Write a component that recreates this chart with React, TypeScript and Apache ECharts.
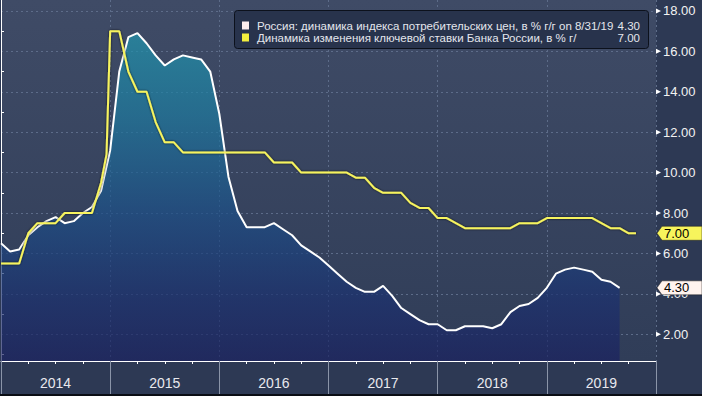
import React, { useEffect, useRef } from "react";
import * as echarts from "echarts";

// Month index 0 = end of Dec 2013 (start of 2014), 12 = start of 2015, ...
const cpiValues = [
  6.5, 6.1, 6.2, 6.9, 7.3, 7.6, 7.8, 7.5, 7.6, 8.0,
  8.3, 9.1, 11.1, 15.0, 16.7, 16.9, 16.4, 15.8, 15.3, 15.6,
  15.8, 15.7, 15.6, 15.0, 12.9, 9.8, 8.1, 7.3, 7.3, 7.3,
  7.5, 7.2, 6.9, 6.4, 6.1, 5.8, 5.4, 5.0, 4.6, 4.3,
  4.1, 4.1, 4.4, 3.9, 3.3, 3.0, 2.7, 2.5, 2.5, 2.2,
  2.2, 2.4, 2.4, 2.4, 2.3, 2.5, 3.1, 3.4, 3.5, 3.8,
  4.3, 5.0, 5.2, 5.3, 5.2, 5.1, 4.7, 4.6, 4.3,
];

const keyRateMonths = [
  0, 2, 3, 4, 6, 7, 10, 11, 11.6, 12, 13, 14, 15, 16, 17, 18, 19, 20,
  29, 30, 32, 33, 38, 39, 40, 41, 42, 44, 45, 46, 47, 48, 49, 50, 51,
  56, 57, 59, 60, 65, 66, 67, 68, 69, 69.8,
];
const keyRateValues = [
  5.5, 5.5, 7.0, 7.5, 7.5, 8.0, 8.0, 9.5, 10.9, 17.0, 17.0, 15.0, 14.0, 14.0, 12.5, 11.5, 11.5, 11.0,
  11.0, 10.5, 10.5, 10.0, 10.0, 9.75, 9.75, 9.25, 9.0, 9.0, 8.5, 8.25, 8.25, 7.75, 7.75, 7.5, 7.25,
  7.25, 7.5, 7.5, 7.75, 7.75, 7.5, 7.25, 7.25, 7.0, 7.0,
];

const yearLabels = ["2014", "2015", "2016", "2017", "2018", "2019"];
const yearTickMonths = [0, 12, 24, 36, 48, 60, 72];
const yearLabelMonths = [6, 18, 30, 42, 54, 66];
const quarterTickMonths = [3, 6, 9, 15, 18, 21, 27, 30, 33, 39, 42, 45, 51, 54, 57, 63, 66, 69];
const yMajorTicks = [2, 4, 6, 8, 10, 12, 14, 16, 18];
const yMinorTicks = [1, 3, 5, 7, 9, 11, 13, 15, 17];

const legendCpi = "Россия: динамика индекса потребительских цен, в % г/г on 8/31/19";
const legendRate = "Динамика изменения ключевой ставки Банка России, в % г/";
const cpiLast = "4.30";
const rateLast = "7.00";

const FONT = "'Liberation Sans', Arial, sans-serif";
const GRID_LINE = { color: "#5d6c89", width: 1, type: [2, 3] as any };

export default function App() {
  const ref = useRef<HTMLDivElement>(null);

  useEffect(() => {
    if (!ref.current) return;
    const chart = echarts.init(ref.current, null, { renderer: "svg" });

    const option: any = {
      animation: false,
      backgroundColor: "#2d3954",
      grid: {
        left: 1,
        right: 46,
        top: 0,
        bottom: 35,
        show: true,
        borderWidth: 0,
        backgroundColor: new echarts.graphic.LinearGradient(0, 0, 0, 1, [
          { offset: 0, color: "#3f4b66" },
          { offset: 1, color: "#303d58" },
        ]),
      },
      xAxis: [
        {
          type: "value",
          min: 0,
          max: 72,
          position: "bottom",
          axisLine: { show: true, lineStyle: { color: "#ffffff", width: 1 } },
          axisTick: {
            show: true,
            customValues: yearTickMonths,
            length: 35,
            inside: false,
            lineStyle: { color: "#8a94a8", width: 1 },
          },
          axisLabel: {
            show: true,
            customValues: yearLabelMonths,
            formatter: (v: number) => yearLabels[yearLabelMonths.indexOf(Math.round(v))] ?? "",
            color: "#e8e8ee",
            fontSize: 14,
            fontFamily: FONT,
            margin: 15,
          },
          splitLine: { show: true, lineStyle: GRID_LINE },
        },
        {
          type: "value",
          min: 0,
          max: 72,
          position: "bottom",
          axisLine: { show: false },
          axisTick: {
            show: true,
            customValues: quarterTickMonths,
            length: 3,
            inside: false,
            lineStyle: { color: "#ffffff", width: 1 },
          },
          axisLabel: { show: false },
          splitLine: { show: false },
        },
      ],
      yAxis: [
        {
          type: "value",
          min: 0.68,
          max: 18.54,
          position: "right",
          axisLine: { show: true, lineStyle: { color: "#ffffff", width: 1 } },
          axisTick: { show: false, customValues: yMajorTicks },
          axisLabel: {
            show: true,
            customValues: yMajorTicks,
            formatter: (v: number) => v.toFixed(2),
            color: "#f2f2f2",
            fontSize: 13,
            fontFamily: FONT,
            margin: 7,
          },
          splitLine: { show: true, lineStyle: GRID_LINE },
        },
        {
          type: "value",
          min: 0.68,
          max: 18.54,
          position: "right",
          axisLine: { show: false },
          axisTick: {
            show: true,
            customValues: yMinorTicks,
            length: 3,
            lineStyle: { color: "#ffffff", width: 1 },
          },
          axisLabel: { show: false },
          splitLine: { show: false },
        },
      ],
      series: [
        {
          name: "cpi",
          type: "line",
          xAxisIndex: 0,
          yAxisIndex: 0,
          data: cpiValues.map((v, i) => [i, v]),
          showSymbol: false,
          symbol: "none",
          lineStyle: { color: "#ffffff", width: 2 },
          areaStyle: {
            color: new echarts.graphic.LinearGradient(0, 0, 0, 1, [
              { offset: 0, color: "#2196ae" },
              { offset: 0.25, color: "#1e7ba0" },
              { offset: 0.55, color: "#1c4f88" },
              { offset: 0.8, color: "#1b3170" },
              { offset: 1, color: "#1a2160" },
            ]),
          },
          z: 2,
        },
        {
          name: "rate",
          type: "line",
          xAxisIndex: 0,
          yAxisIndex: 0,
          data: keyRateMonths.map((m, i) => [m, keyRateValues[i]]),
          showSymbol: false,
          symbol: "none",
          lineStyle: {
            color: "#f6f35e",
            width: 2,
            shadowColor: "rgba(0,0,0,0.8)",
            shadowBlur: 2,
          },
          z: 3,
        },
      ],
    };

    chart.setOption(option);

    const toPx = (x: number, y: number) =>
      chart.convertToPixel({ xAxisIndex: 0, yAxisIndex: 0 }, [x, y]) as number[];

    const axisX = toPx(72, 0)[0];
    const graphics: any[] = [];

    // major tick triangles
    yMajorTicks.forEach((v) => {
      const py = toPx(0, v)[1];
      graphics.push({
        type: "polygon",
        z: 50,
        shape: { points: [[axisX, py - 2.5], [axisX + 5, py], [axisX, py + 2.5]] },
        style: { fill: "#ffffff" },
      });
    });

    // value tags
    const tag = (value: number, text: string, fill: string) => {
      const py = toPx(0, value)[1];
      graphics.push({
        type: "polygon",
        z: 100,
        shape: {
          points: [
            [axisX + 1, py],
            [axisX + 6, py - 7],
            [702, py - 7],
            [702, py + 7],
            [axisX + 6, py + 7],
          ],
        },
        style: { fill, stroke: "#1a1a1a", lineWidth: 0.5 },
      });
      graphics.push({
        type: "text",
        z: 101,
        x: axisX + 8,
        y: py,
        style: {
          text,
          fill: "#000000",
          fontSize: 13,
          fontFamily: FONT,
          verticalAlign: "middle",
          align: "left",
        },
      });
    };
    tag(keyRateValues[keyRateValues.length - 1], rateLast, "#f7f45c");
    tag(cpiValues[cpiValues.length - 1], cpiLast, "#fff3ee");

    // legend box
    graphics.push({
      type: "rect",
      z: 60,
      shape: { x: 234.5, y: 10.5, width: 414, height: 38, r: 3 },
      style: { fill: "#28334c", stroke: "#0c111c", lineWidth: 1 },
    });
    const rows = [
      { y: 25.5, color: "#fdeeee", label: legendCpi, val: cpiLast },
      { y: 37.5, color: "#f3ef3e", label: legendRate, val: rateLast },
    ];
    rows.forEach((r) => {
      graphics.push({
        type: "rect",
        z: 61,
        shape: { x: 242, y: r.y - 4, width: 7, height: 8 },
        style: { fill: r.color },
      });
      graphics.push({
        type: "text",
        z: 61,
        x: 257,
        y: r.y,
        style: {
          text: r.label,
          fill: "#e4e6ec",
          fontSize: 11.5,
          fontFamily: FONT,
          verticalAlign: "middle",
          align: "left",
        },
      });
      graphics.push({
        type: "text",
        z: 61,
        x: 640,
        y: r.y,
        style: {
          text: r.val,
          fill: "#e4e6ec",
          fontSize: 11.5,
          fontFamily: FONT,
          verticalAlign: "middle",
          align: "right",
        },
      });
    });

    // bottom dark edge
    graphics.push({
      type: "rect",
      z: 40,
      shape: { x: 0, y: 394, width: 702, height: 2 },
      style: { fill: "#0a0d14" },
    });

    chart.setOption({ graphic: graphics });

    return () => {
      chart.dispose();
    };
  }, []);

  return (
    <div
      ref={ref}
      style={{ position: "fixed", left: 0, top: 0, width: 702, height: 396 }}
    />
  );
}
